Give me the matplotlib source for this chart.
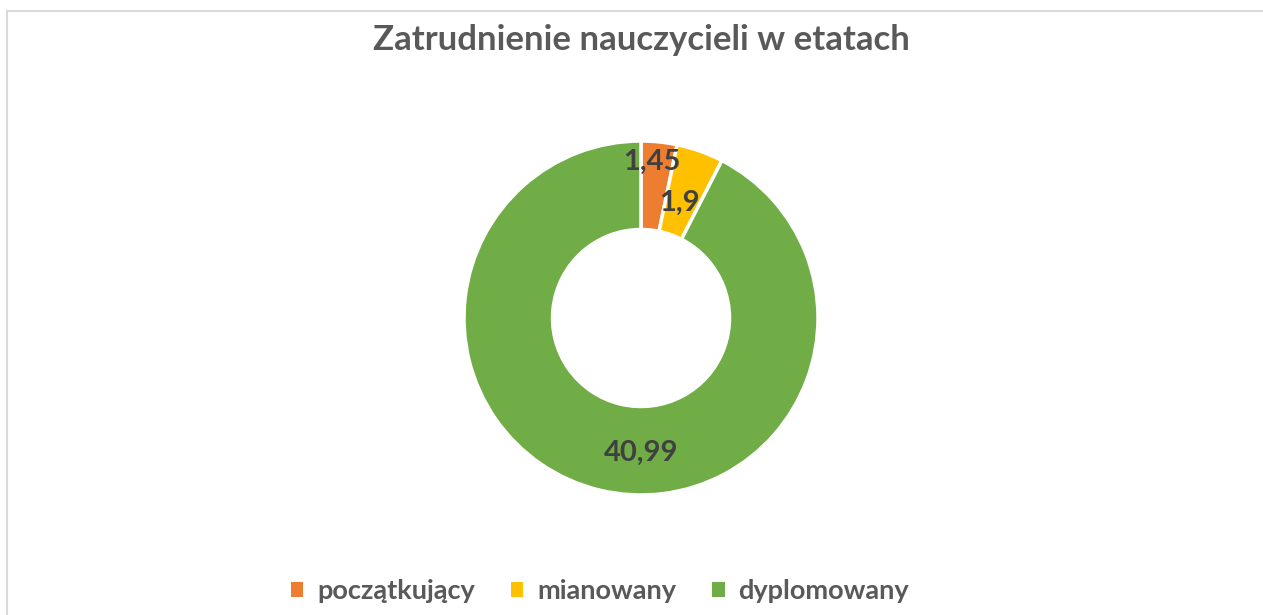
import matplotlib.pyplot as plt
import numpy as np

# dane
categories = ["początkujący", "mianowany", "dyplomowany"]
values = [1.45, 1.9, 40.99]
labels = ["1,45", "1,9", "40,99"]
colors = ["#ED7D31", "#FFC000", "#70AD47"]
# polozenie etykiet recznie odczytane (w jednostkach promienia)
label_pos = [(0.062, 0.88), (0.215, 0.65), (0.0, -0.763)]

W, H = 1263, 615
plt.rcParams["font.family"] = ["Lato", "DejaVu Sans"]
fig = plt.figure(figsize=(W / 100, H / 100), dpi=100)

# ramka wykresu (widoczna tylko gora i lewa strona)
fig.add_artist(plt.Line2D([7 / W, 7 / W], [0, 1 - 11 / H], color="#D9D9D9", lw=1.5))
fig.add_artist(plt.Line2D([7 / W, 1], [1 - 11 / H, 1 - 11 / H], color="#D9D9D9", lw=1.5))

cx, cy, r = 641, 318, 177
ax = fig.add_axes([(cx - r) / W, (H - cy - r) / H, 2 * r / W, 2 * r / H])
wedges, _ = ax.pie(values, colors=colors, startangle=90, counterclock=False,
                   radius=1.0, wedgeprops=dict(width=0.5, edgecolor="white", linewidth=2.5))
ax.set_xlim(-1, 1)
ax.set_ylim(-1, 1)
ax.set_aspect("equal")
ax.axis("off")

for (x, y), t in zip(label_pos, labels):
    ax.text(x, y, t, ha="center", va="center", fontsize=21, fontweight="bold", color="#404040")

fig.text(641 / W, 1 - 40 / H, "Zatrudnienie nauczycieli w etatach", ha="center", va="center",
         fontsize=25, fontweight="bold", color="#595959")

leg = fig.legend(wedges, categories, loc="center", bbox_to_anchor=(600 / W, 1 - 591 / H),
                 ncol=3, frameon=False, fontsize=19.5, handlelength=0.45, handleheight=0.45,
                 columnspacing=1.35, handletextpad=0.5)
for txt in leg.get_texts():
    txt.set_color("#595959")
    txt.set_fontweight("bold")
for h in leg.legend_handles:
    h.set_edgecolor("none")

fig.savefig("out.png", dpi=100)
